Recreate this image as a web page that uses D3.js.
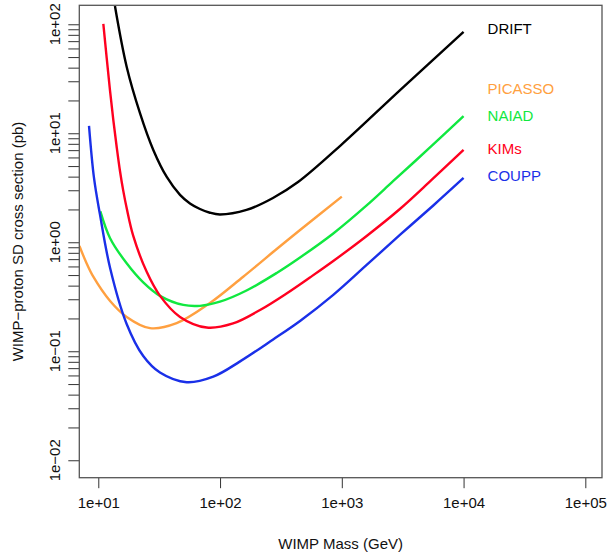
<!DOCTYPE html>
<html>
<head>
<meta charset="utf-8">
<script src="https://cdn.jsdelivr.net/npm/d3@7"></script>
<style>
  body { margin: 0; background: #fff; }
  svg text { font-family: "Liberation Sans", Arial, Helvetica, sans-serif; }
</style>
</head>
<body>
<svg id="chart" width="608" height="557"></svg>
<script>
// experiment names + colours
const names = ["DRIFT", "PICASSO", "NAIAD", "KIMs", "COUPP"]
const colors = ["#000000", "#ffa040", "#10e840", "#ff0020", "#1a30e8"]

// WIMP mass (GeV) and SD cross section (pb)
const driftMass = [13.7, 17.1, 22.0, 28.3, 36.5, 46.9, 56.6, 68.4, 82.6, 99.8, 165, 272, 437, 985, 3010, 10000]
const driftSigma = [147, 40.8, 15.3, 7.03, 3.97, 2.72, 2.27, 2.02, 1.866, 1.80, 1.98, 2.55, 3.57, 7.8, 24.9, 85]

const picassoMass = [7.0, 7.93, 9.10, 12.5, 17.1, 26.6, 44.0, 82.6, 155, 292, 454, 1000]
const picassoSigma = [0.925, 0.659, 0.483, 0.289, 0.2065, 0.163, 0.181, 0.277, 0.483, 0.867, 1.297, 2.62]

const naiadMass = [10.4, 12.5, 17.1, 23.4, 32.1, 49.9, 68.4, 99.8, 165, 292, 454, 851, 1600, 2650, 5300, 10000]
const naiadSigma = [1.92, 1.09, 0.641, 0.428, 0.322, 0.266, 0.261, 0.285, 0.361, 0.523, 0.725, 1.205, 2.18, 3.65, 7.41, 14.4]

const kimsMass = [11.0, 11.72, 12.47, 13.28, 14.16, 15.07, 16.04, 17.1, 19.37, 24.98, 32.15, 46.9, 77.7, 128, 213, 352, 547, 851, 1600, 3000, 5460, 10000]
const kimsSigma = [100.6, 49.1, 24.9, 13.24, 7.48, 4.51, 2.96, 2.06, 1.143, 0.535, 0.322, 0.2065, 0.165, 0.180, 0.239, 0.339, 0.475, 0.673, 1.143, 2.02, 3.73, 7.03]

const couppMass = [8.39, 9.22, 10.3, 12.5, 17.1, 23.4, 32.1, 53.2, 88.0, 145, 273, 454, 851, 1600, 3000, 5640, 10000]
const couppSigma = [11.7, 3.89, 1.82, 0.581, 0.178, 0.0904, 0.0638, 0.0520, 0.0585, 0.0803, 0.1283, 0.1897, 0.329, 0.619, 1.167, 2.175, 3.89]

// where the names sit (cross section at label centre)
const labelSigma = [92, 25.5, 14.4, 7.2, 4.06]

const xTicks = [1e1, 1e2, 1e3, 1e4, 1e5]
const xTickLabels = ["1e+01", "1e+02", "1e+03", "1e+04", "1e+05"]
const yTicks = [1e-2, 1e-1, 1e0, 1e1, 1e2]
const yTickLabels = ["1e\u221202", "1e\u221201", "1e+00", "1e+01", "1e+02"]

const massSets = [driftMass, picassoMass, naiadMass, kimsMass, couppMass]
const sigmaSets = [driftSigma, picassoSigma, naiadSigma, kimsSigma, couppSigma]

const svg = d3.select("#chart")
const boxL = 79.3, boxR = 602, boxT = 5.3, boxB = 477.7
const fs = 15

const x = d3.scaleLog()
  .domain([Math.pow(10, 0.844), Math.pow(10, 5.137)])
  .range([boxL, boxR])
const y = d3.scaleLog()
  .domain([Math.pow(10, -2.16), Math.pow(10, 2.174)])
  .range([boxB, boxT])

svg.append("defs").append("clipPath").attr("id", "plotclip")
  .append("rect").attr("x", boxL).attr("y", boxT)
  .attr("width", boxR - boxL).attr("height", boxB - boxT)

// curves
const line = d3.line()
  .x(d => x(d[0]))
  .y(d => y(d[1]))
  .curve(d3.curveCatmullRom.alpha(0.5))

const curves = svg.append("g").attr("clip-path", "url(#plotclip)")
names.forEach((n, i) => {
  let pts = massSets[i].map((m, j) => [m, sigmaSets[i][j]])
  curves.append("path")
    .attr("d", line(pts))
    .attr("fill", "none")
    .attr("stroke", colors[i])
    .attr("stroke-width", 2.4)
    .attr("stroke-linejoin", "round")
})

// minor ticks on y: 2..9 in each decade
let yMinor = []
for (let d = -2; d <= 1; d++) {
  for (let k = 2; k <= 9; k++) yMinor.push(k * Math.pow(10, d))
}

const axisColor = "#333"

// x axis
const xAxis = svg.append("g")
  .attr("transform", `translate(0, ${boxB})`)
  .call(d3.axisBottom(x).tickValues(xTicks).tickFormat((d, i) => xTickLabels[i]).tickSize(10.5).tickPadding(9))
xAxis.select(".domain").remove()
xAxis.selectAll("line").attr("stroke", axisColor)
xAxis.selectAll("text").attr("font-size", fs).attr("fill", "#111")

// y axis
const yAxis = svg.append("g")
  .attr("transform", `translate(${boxL}, 0)`)
  .call(d3.axisLeft(y).tickValues(yTicks.concat(yMinor)).tickFormat("").tickSize(11))
yAxis.select(".domain").remove()
yAxis.selectAll("line").attr("stroke", axisColor)

svg.append("g").selectAll("text")
  .data(yTicks)
  .enter()
  .append("text")
  .attr("transform", d => `translate(60, ${y(d)}) rotate(-90)`)
  .attr("text-anchor", "middle")
  .attr("font-size", fs)
  .attr("fill", "#111")
  .text((d, i) => yTickLabels[i])

// box
svg.append("rect")
  .attr("x", boxL).attr("y", boxT)
  .attr("width", boxR - boxL).attr("height", boxB - boxT)
  .attr("fill", "none")
  .attr("stroke", "#555")
  .attr("stroke-width", 1.3)

// experiment names
svg.append("g").selectAll("text")
  .data(names)
  .enter()
  .append("text")
  .attr("x", x(1e4) + 24)
  .attr("y", (d, i) => y(labelSigma[i]))
  .attr("dy", "0.36em")
  .attr("font-size", fs)
  .attr("fill", (d, i) => colors[i])
  .text(d => d)

// axis titles
svg.append("text")
  .attr("x", (boxL + boxR) / 2)
  .attr("y", 549)
  .attr("text-anchor", "middle")
  .attr("font-size", fs)
  .attr("fill", "#111")
  .text("WIMP Mass (GeV)")

svg.append("text")
  .attr("transform", `translate(23, ${(boxT + boxB) / 2}) rotate(-90)`)
  .attr("text-anchor", "middle")
  .attr("font-size", fs)
  .attr("fill", "#111")
  .text("WIMP\u2212proton SD cross section (pb)")
</script>
</body>
</html>
